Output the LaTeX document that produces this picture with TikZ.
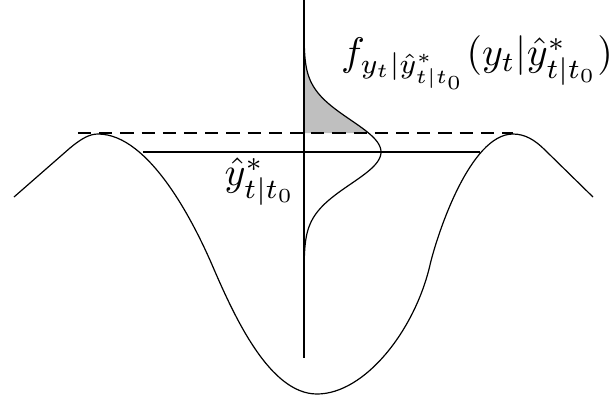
\documentclass[tikz,border=0pt]{standalone}
\usepackage{amsmath,amssymb}
\usetikzlibrary{positioning}

\begin{document}
\begin{tikzpicture}[x=0.25bp,y=-0.25bp,line join=round]
		\tikzstyle{curve}=[line width=0.3pt]
		\tikzstyle{level}=[line width=0.5pt]
		\tikzstyle{peak}=[line width=0.35pt,dash pattern=on 3.3bp off 2bp]
		\useasboundingbox (0,0) rectangle (613,396);
		\coordinate (top) at (304,0);
		\coordinate (bottom) at (304,358);
		\coordinate (lpeak) at (78,133);
		\coordinate (rpeak) at (513,133);
		\coordinate (lcut) at (143,152);
		\coordinate (rcut) at (480,152);
		% shaded upper tail
		\fill[gray!50] (304,133) -- plot[domain=-19:-112,samples=60] ({304+77*exp(-(\x*\x)/(2*32*32))},{152+\x}) -- cycle;
		\draw[curve] (top) -- (bottom);
		\draw[peak] (lpeak) -- (rpeak);
		\draw[level] (lcut) -- (rcut);
		% density
		\draw[curve] plot[domain=-112:112,samples=120] ({304+77*exp(-(\x*\x)/(2*32*32))},{152+\x});
		% trajectory
		\draw[curve] (14,197) -- (70,148)
			.. controls (82,138) and (90,134) .. (98,134)
			.. controls (150,134) and (195,225) .. (213,267)
			.. controls (235,318) and (270,394) .. (317,394)
			.. controls (365,394) and (415,330) .. (430,265)
			.. controls (437,235) and (470,134) .. (513,134)
			.. controls (525,134) and (535,140) .. (545,150)
			-- (593,197);
		\node (yhat) at (260,182) {$\hat{y}^*_{t|t_0}$};
		\node (dens) at (477,63) {$f_{y_t|\hat{y}^*_{t|t_0}}(y_t|\hat{y}^*_{t|t_0})$};
\end{tikzpicture}
\end{document}
